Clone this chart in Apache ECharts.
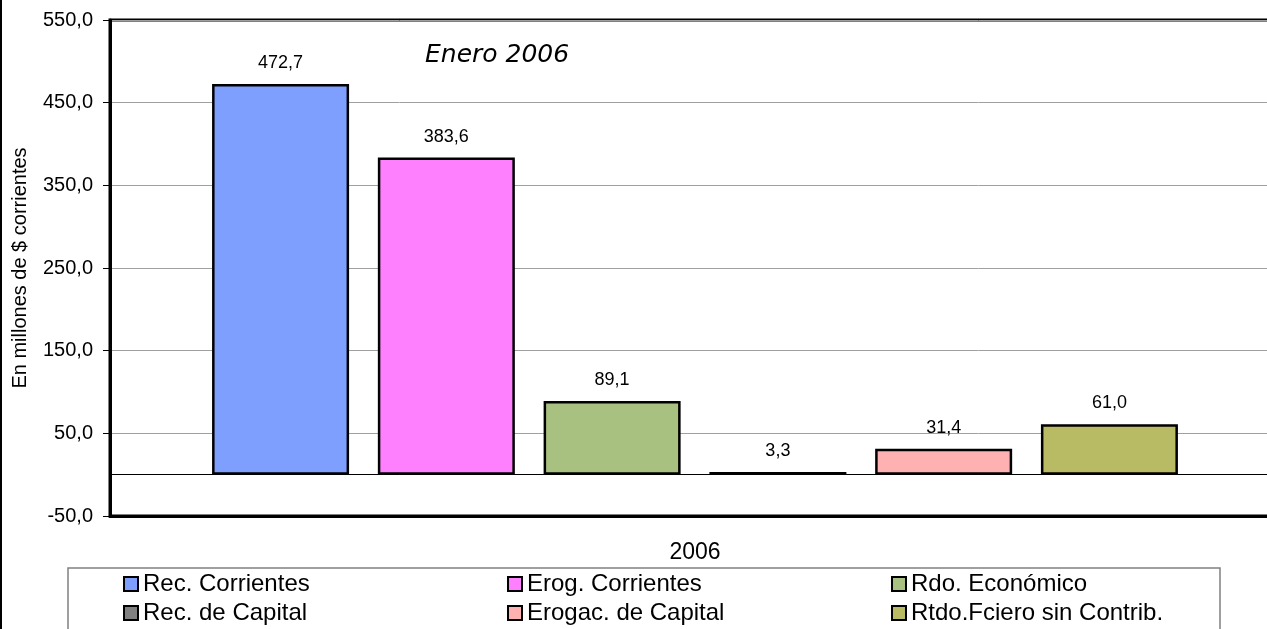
<!DOCTYPE html>
<html>
<head>
<meta charset="utf-8">
<script src="https://cdn.jsdelivr.net/npm/echarts@6/dist/echarts.min.js"></script>
<style>html,body{margin:0;padding:0;background:#fff;}#c{width:1267px;height:629px;}</style>
</head>
<body>
<div id="c"></div>
<script>
const categories = ['2006'];
const seriesNames = ['Rec. Corrientes', 'Erog. Corrientes', 'Rdo. Económico', 'Rec. de Capital', 'Erogac. de Capital', 'Rtdo.Fciero sin Contrib.'];
const seriesValues = [472.7, 383.6, 89.1, 3.3, 31.4, 61.0];
const seriesColors = ['#7f9fff', '#ff80ff', '#a8c080', '#808080', '#ffb0b0', '#b8bb63'];
const yTicks = [-50, 50, 150, 250, 350, 450, 550];

const fmt = v => Number(v).toFixed(1).replace('.', ',');
const FONT = '"Liberation Sans", Arial, sans-serif';

const chart = echarts.init(document.getElementById('c'));
const series = seriesNames.map((name, i) => {
  const s = {
    name: name,
    type: 'bar',
    data: [seriesValues[i]],
    barWidth: 137,
    barGap: '21%',
    itemStyle: { color: seriesColors[i], borderColor: '#000', borderWidth: 2.5 },
    label: {
      show: true, position: 'top', distance: 12,
      formatter: p => fmt(p.value),
      fontSize: 18, color: '#000', fontFamily: FONT
    }
  };
  if (i === 0) {
    s.markLine = {
      silent: true, symbol: 'none', label: { show: false },
      lineStyle: { color: '#000', width: 1, type: 'solid' },
      data: [{ yAxis: 0 }]
    };
  }
  return s;
});

const legendBase = {
  orient: 'vertical', itemWidth: 14, itemHeight: 14, itemGap: 5, icon: 'rect',
  top: 572, padding: 0,
  itemStyle: { borderColor: '#000', borderWidth: 2 },
  textStyle: { fontSize: 24, color: '#000', fontFamily: FONT },
  selectedMode: false
};

chart.setOption({
  animation: false,
  textStyle: { fontFamily: FONT },
  grid: { left: 110, top: 20, bottom: 113, right: -13, outerBoundsMode: 'none', containLabel: false, show: true, borderColor: '#000', borderWidth: 3, backgroundColor: 'transparent' },
  xAxis: {
    type: 'category', data: categories,
    axisLine: { onZero: false, lineStyle: { color: '#000', width: 3 } },
    axisTick: { show: false },
    axisLabel: { fontSize: 23, color: '#000', margin: 25, fontFamily: FONT }
  },
  yAxis: {
    type: 'value', min: yTicks[0], max: yTicks[yTicks.length - 1], interval: 100,
    name: 'En millones de $ corrientes', nameLocation: 'middle', nameGap: 80,
    nameTextStyle: { fontSize: 20, color: '#000', fontFamily: FONT },
    axisLine: { show: true, lineStyle: { color: '#000', width: 3 } },
    axisTick: { show: true, length: 7, lineStyle: { color: '#000' } },
    axisLabel: { fontSize: 20, color: '#000', margin: 17, formatter: v => fmt(v), fontFamily: FONT },
    splitLine: { lineStyle: { color: '#a0a0a0', width: 1 } }
  },
  legend: [
    Object.assign({}, legendBase, { left: 123, data: [seriesNames[0], seriesNames[3]] }),
    Object.assign({}, legendBase, { left: 507, data: [seriesNames[1], seriesNames[4]] }),
    Object.assign({}, legendBase, { left: 891, data: [seriesNames[2], seriesNames[5]] })
  ],
  graphic: [
    { type: 'rect', shape: { x: 68, y: 568, width: 1152, height: 90 }, style: { fill: 'none', stroke: '#808080', lineWidth: 1.5 }, silent: true },
    { type: 'line', shape: { x1: 1, y1: 0, x2: 1, y2: 629 }, style: { stroke: '#000', lineWidth: 2 }, silent: true },
    { type: 'text', x: 425, y: 55, style: { text: 'Enero 2006', font: 'italic 25px "DejaVu Sans", sans-serif', fill: '#000', textVerticalAlign: 'middle', verticalAlign: 'middle' }, silent: true }
  ],
  series: series
});
</script>
</body>
</html>
